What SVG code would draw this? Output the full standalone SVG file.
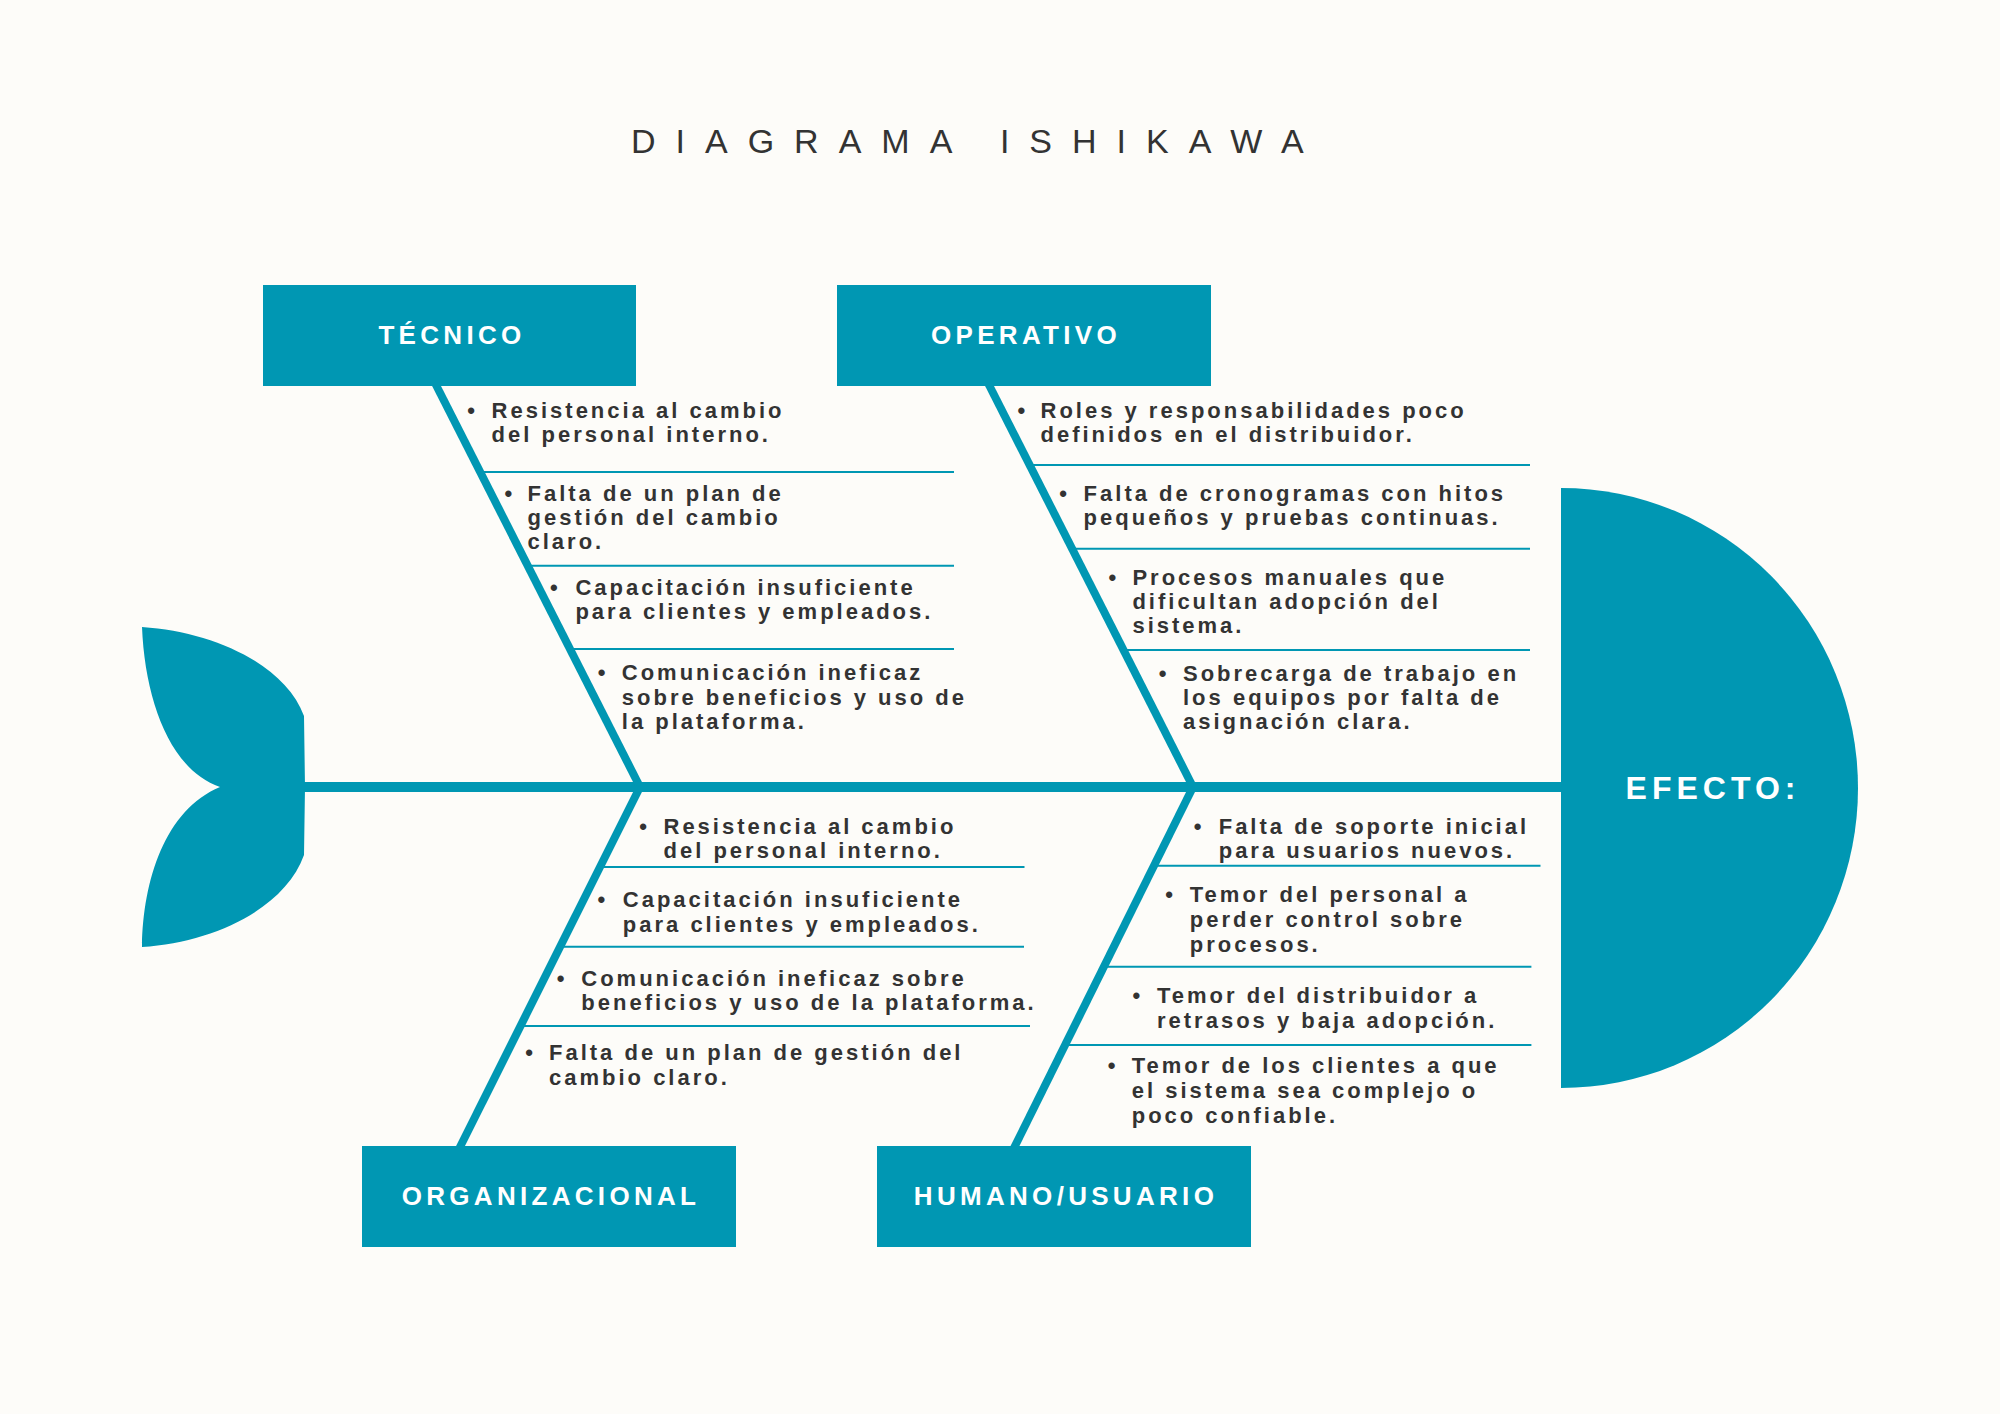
<svg xmlns="http://www.w3.org/2000/svg" width="2000" height="1414" viewBox="0 0 2000 1414">
<style>
.bg{fill:#FDFCF9}
.teal{fill:#0097B3}
.bone{stroke:#0097B3;stroke-width:8;fill:none;stroke-linecap:butt}
.spine{stroke:#0097B3;stroke-width:10;fill:none}
.div{stroke:#0097B3;stroke-width:2;fill:none}
.title{font-family:"Liberation Sans",Arial,sans-serif;font-size:34px;fill:#333;letter-spacing:20px}
.lbl{font-family:"Liberation Sans",Arial,sans-serif;font-weight:bold;font-size:26px;fill:#fff;letter-spacing:4.3px;text-anchor:middle}
.eff{font-family:"Liberation Sans",Arial,sans-serif;font-weight:bold;font-size:32px;fill:#fff;letter-spacing:5px;text-anchor:middle}
.t{font-family:"Liberation Sans",Arial,sans-serif;font-weight:bold;font-size:22px;fill:#333;letter-spacing:3px}
.b{font-family:"Liberation Sans",Arial,sans-serif;font-weight:bold;font-size:22px;fill:#333;text-anchor:middle}
</style>
<rect class="bg" x="0" y="0" width="2000" height="1414"/>
<text class="title" x="631" y="153">DIAGRAMA ISHIKAWA</text>

<g id="connectors">
<line class="spine" x1="300" y1="787" x2="1565" y2="787"/>
<line class="bone" x1="433" y1="379" x2="640" y2="787"/>
<line class="bone" x1="986" y1="379" x2="1193" y2="787"/>
<line class="bone" x1="640" y1="787" x2="458.5" y2="1150"/>
<line class="bone" x1="1193" y1="787" x2="1013" y2="1150"/>
<line class="div" x1="480.2" y1="472" x2="954" y2="472"/>
<line class="div" x1="527.7" y1="565.7" x2="954" y2="565.7"/>
<line class="div" x1="570" y1="649" x2="954" y2="649"/>
<line class="div" x1="1029.6" y1="465" x2="1530" y2="465"/>
<line class="div" x1="1072.1" y1="548.7" x2="1530" y2="548.7"/>
<line class="div" x1="1123.5" y1="650" x2="1530" y2="650"/>
<line class="div" x1="600" y1="867" x2="1024.5" y2="867"/>
<line class="div" x1="560.1" y1="946.7" x2="1024" y2="946.7"/>
<line class="div" x1="520.5" y1="1026" x2="1030" y2="1026"/>
<line class="div" x1="1153.9" y1="865.7" x2="1540.5" y2="865.7"/>
<line class="div" x1="1103.7" y1="966.7" x2="1531.4" y2="966.7"/>
<line class="div" x1="1064.9" y1="1045" x2="1531.4" y2="1045"/>
</g>

<g id="tail">
<path class="teal" d="M142,627 C215,632 285,665 304,716 L305,787 L304,855 C285,908 215,942 142,947 C143,880 165,810 220,787 C170,770 145,700 142,627 Z"/>
</g>

<g id="efecto">
<path class="teal" d="M1561,488 A297,300 0 0 1 1561,1088 Z"/>
<text class="eff" x="1713" y="799">EFECTO:</text>
</g>

<g id="tecnico">
<rect class="teal" x="263" y="285" width="373" height="101"/>
<text class="lbl" x="452" y="344">TÉCNICO</text>
</g>
<g id="operativo">
<rect class="teal" x="837" y="285" width="374" height="101"/>
<text class="lbl" x="1026" y="344">OPERATIVO</text>
</g>
<g id="organizacional">
<rect class="teal" x="362" y="1146" width="374" height="101"/>
<text class="lbl" x="551" y="1205">ORGANIZACIONAL</text>
</g>
<g id="humano">
<rect class="teal" x="877" y="1146" width="374" height="101"/>
<text class="lbl" x="1066" y="1205">HUMANO/USUARIO</text>
</g>

<g id="tecnico-items">
<text class="b" x="471" y="418">•</text>
<text class="t"><tspan x="491.6" y="418">Resistencia al cambio</tspan><tspan x="491.6" y="442">del personal interno.</tspan></text>
<text class="b" x="508.4" y="501">•</text>
<text class="t"><tspan x="527.5" y="501">Falta de un plan de</tspan><tspan x="527.5" y="525">gestión del cambio</tspan><tspan x="527.5" y="549">claro.</tspan></text>
<text class="b" x="553.8" y="595">•</text>
<text class="t"><tspan x="575.4" y="595">Capacitación insuficiente</tspan><tspan x="575.4" y="619">para clientes y empleados.</tspan></text>
<text class="b" x="601.7" y="680">•</text>
<text class="t"><tspan x="621.8" y="680">Comunicación ineficaz</tspan><tspan x="621.8" y="705">sobre beneficios y uso de</tspan><tspan x="621.8" y="729">la plataforma.</tspan></text>
</g>

<g id="operativo-items">
<text class="b" x="1021.4" y="418">•</text>
<text class="t"><tspan x="1040.5" y="418">Roles y responsabilidades poco</tspan><tspan x="1040.5" y="442">definidos en el distribuidor.</tspan></text>
<text class="b" x="1063" y="501">•</text>
<text class="t"><tspan x="1083.6" y="501">Falta de cronogramas con hitos</tspan><tspan x="1083.6" y="525">pequeños y pruebas continuas.</tspan></text>
<text class="b" x="1112.3" y="585">•</text>
<text class="t"><tspan x="1132.4" y="585">Procesos manuales que</tspan><tspan x="1132.4" y="609">dificultan adopción del</tspan><tspan x="1132.4" y="633">sistema.</tspan></text>
<text class="b" x="1162.5" y="681">•</text>
<text class="t"><tspan x="1183" y="681">Sobrecarga de trabajo en</tspan><tspan x="1183" y="705">los equipos por falta de</tspan><tspan x="1183" y="729">asignación clara.</tspan></text>
</g>

<g id="organizacional-items">
<text class="b" x="643" y="834">•</text>
<text class="t"><tspan x="663.5" y="834">Resistencia al cambio</tspan><tspan x="663.5" y="858">del personal interno.</tspan></text>
<text class="b" x="601.4" y="907">•</text>
<text class="t"><tspan x="622.8" y="907">Capacitación insuficiente</tspan><tspan x="622.8" y="932">para clientes y empleados.</tspan></text>
<text class="b" x="560.7" y="986">•</text>
<text class="t"><tspan x="581.3" y="986">Comunicación ineficaz sobre</tspan><tspan x="581.3" y="1010">beneficios y uso de la plataforma.</tspan></text>
<text class="b" x="529" y="1060">•</text>
<text class="t"><tspan x="549" y="1060">Falta de un plan de gestión del</tspan><tspan x="549" y="1085">cambio claro.</tspan></text>
</g>

<g id="humano-items">
<text class="b" x="1197.7" y="834">•</text>
<text class="t"><tspan x="1218.7" y="834">Falta de soporte inicial</tspan><tspan x="1218.7" y="858">para usuarios nuevos.</tspan></text>
<text class="b" x="1169.2" y="902">•</text>
<text class="t"><tspan x="1189.8" y="902">Temor del personal a</tspan><tspan x="1189.8" y="927">perder control sobre</tspan><tspan x="1189.8" y="952">procesos.</tspan></text>
<text class="b" x="1136.4" y="1003">•</text>
<text class="t"><tspan x="1157" y="1003">Temor del distribuidor a</tspan><tspan x="1157" y="1028">retrasos y baja adopción.</tspan></text>
<text class="b" x="1111.5" y="1073">•</text>
<text class="t"><tspan x="1131.7" y="1073">Temor de los clientes a que</tspan><tspan x="1131.7" y="1098">el sistema sea complejo o</tspan><tspan x="1131.7" y="1123">poco confiable.</tspan></text>
</g>
</svg>
